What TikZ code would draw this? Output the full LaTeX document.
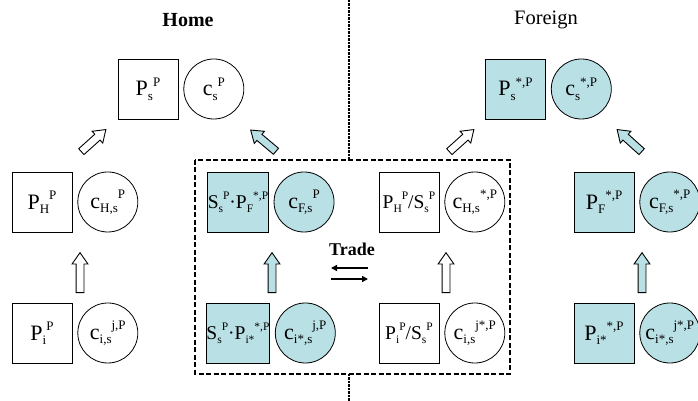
\documentclass[tikz,border=0pt]{standalone}
\usepackage{fontspec}
\setmainfont{Liberation Serif}
\usepackage{tikz}
\usetikzlibrary{shapes.arrows,arrows.meta,positioning}
\definecolor{paleCyan}{RGB}{185,224,229}
\newcommand{\scfont}{\fontsize{13}{13}\selectfont}
\newcommand{\sbs}[1]{\raisebox{-0.2em}{\scfont #1}}
\newcommand{\sps}[1]{\raisebox{0.45em}{\scfont #1}}

\begin{document}
\begin{tikzpicture}[x=1pt, y=1pt,
      every node/.style={font=\rmfamily\fontsize{22}{22}\selectfont},
      price box/.style={draw, line width=0.8pt, minimum size=60pt, inner sep=0pt},
      cons disk/.style={draw, circle, line width=0.8pt, minimum size=60pt, inner sep=0pt},
      wide text/.style={font=\rmfamily\fontsize{19.5}{19.5}\selectfont\def\scfont{\fontsize{11.5}{11.5}\selectfont}},
      fat arrow/.style={draw, single arrow, line width=0.9pt, minimum height=#1, minimum width=15pt,
        inner xsep=3.5pt, inner ysep=3.5pt, single arrow head extend=4pt, single arrow tip angle=70},
      fat arrow/.default=40pt,
      title/.style={font=\rmfamily\fontsize{20.5}{20.5}\selectfont}
    ]
      \useasboundingbox[fill=white] (0,0) rectangle (698,401);
      % borders between the two countries
      \draw[line width=1.4pt, dash pattern=on 5pt off 2.5pt] (195,241) rectangle (510,27);
      \draw[line width=2.8pt, dash pattern=on 2.5pt off 1pt] (349,401) -- (349,241);
      \draw[line width=2.8pt, dash pattern=on 2.5pt off 1pt] (349,27) -- (349,0);

      \node[title, font=\rmfamily\fontsize{20}{20}\selectfont\bfseries] (home) at (188,381) {Home};
      \node[title] (foreign) at (546,381) {Foreign};

      % top row
      \node[price box] (PsH) at (148,312) {P\sbs{s}\sps{P}};
      \node[cons disk, right=5pt of PsH] (csH) {c\sbs{s}\sps{P}};
      \node[price box, fill=paleCyan] (PsF) at (515.5,312) {P\sbs{s}\sps{*,P}};
      \node[cons disk, fill=paleCyan, right=5pt of PsF] (csF) {c\sbs{s}\sps{*,P}};

      % middle row
      \node[price box] (PHH) at (42,199) {P\sbs{H}\sps{P}};
      \node[cons disk, right=5pt of PHH] (cHH) {c\sbs{H,s}\sps{P}};
      \node[price box, fill=paleCyan, wide text] (PFH) at (238,199) {S\sbs{s}\sps{P}·P\sbs{F}\sps{*,P}};
      \node[cons disk, fill=paleCyan, right=5pt of PFH] (cFH) {c\sbs{F,s}\sps{P}};
      \node[price box, wide text] (PHF) at (409,199) {P\sbs{H}\sps{P}/S\sbs{s}\sps{P}};
      \node[cons disk, right=5pt of PHF] (cHF) {c\sbs{H,s}\sps{*,P}};
      \node[price box, fill=paleCyan] (PFF) at (604,199) {P\sbs{F}\sps{*,P}};
      \node[cons disk, fill=paleCyan, right=5pt of PFF] (cFF) {c\sbs{F,s}\sps{*,P}};

      % bottom row
      \node[price box] (PiH) at (42,68) {P\sbs{i}\sps{P}};
      \node[cons disk, right=5pt of PiH] (ciH) {c\sbs{i,s}\sps{j,P}};
      \node[price box, fill=paleCyan, wide text] (PjH) at (238,68) {S\sbs{s}\sps{P}·P\sbs{i*}\sps{*,P}};
      \node[cons disk, fill=paleCyan, right=5pt of PjH] (cjH) {c\sbs{i*,s}\sps{j,P}};
      \node[price box, wide text] (PiF) at (409,68) {P\sbs{i}\sps{P}/S\sbs{s}\sps{P}};
      \node[cons disk, right=5pt of PiF] (ciF) {c\sbs{i,s}\sps{j*,P}};
      \node[price box, fill=paleCyan] (PjF) at (604,68) {P\sbs{i*}\sps{*,P}};
      \node[cons disk, fill=paleCyan, right=5pt of PjF] (cjF) {c\sbs{i*,s}\sps{j*,P}};

      % aggregation arrows
      \node[fat arrow, fill=white, rotate=90] (upHH) at (80,125.5) {};
      \node[fat arrow, fill=paleCyan, rotate=90] (upFH) at (272,125.5) {};
      \node[fat arrow, fill=white, rotate=90] (upHF) at (446,125.5) {};
      \node[fat arrow, fill=paleCyan, rotate=90] (upFF) at (642,125.5) {};
      \node[fat arrow=33pt, fill=white, rotate=42] (dgHH) at (91.5,258.5) {};
      \node[fat arrow=33pt, fill=paleCyan, rotate=140] (dgFH) at (265.5,258.5) {};
      \node[fat arrow=33pt, fill=white, rotate=42] (dgHF) at (459.5,258.5) {};
      \node[fat arrow=33pt, fill=paleCyan, rotate=138] (dgFF) at (631.5,258.5) {};

      % trade
      \node[font=\rmfamily\fontsize{18}{18}\selectfont\bfseries] (trade) at (352,152) {Trade};
      \coordinate (tradeTL) at (331,133);
      \coordinate (tradeTR) at (368,133);
      \coordinate (tradeBL) at (331,122);
      \coordinate (tradeBR) at (368,122);
      \draw[line width=1.8pt, -{Triangle[length=6pt,width=6pt]}] (tradeTR) -- (tradeTL);
      \draw[line width=1.8pt, -{Triangle[length=6pt,width=6pt]}] (tradeBL) -- (tradeBR);
    \end{tikzpicture}
\end{document}
